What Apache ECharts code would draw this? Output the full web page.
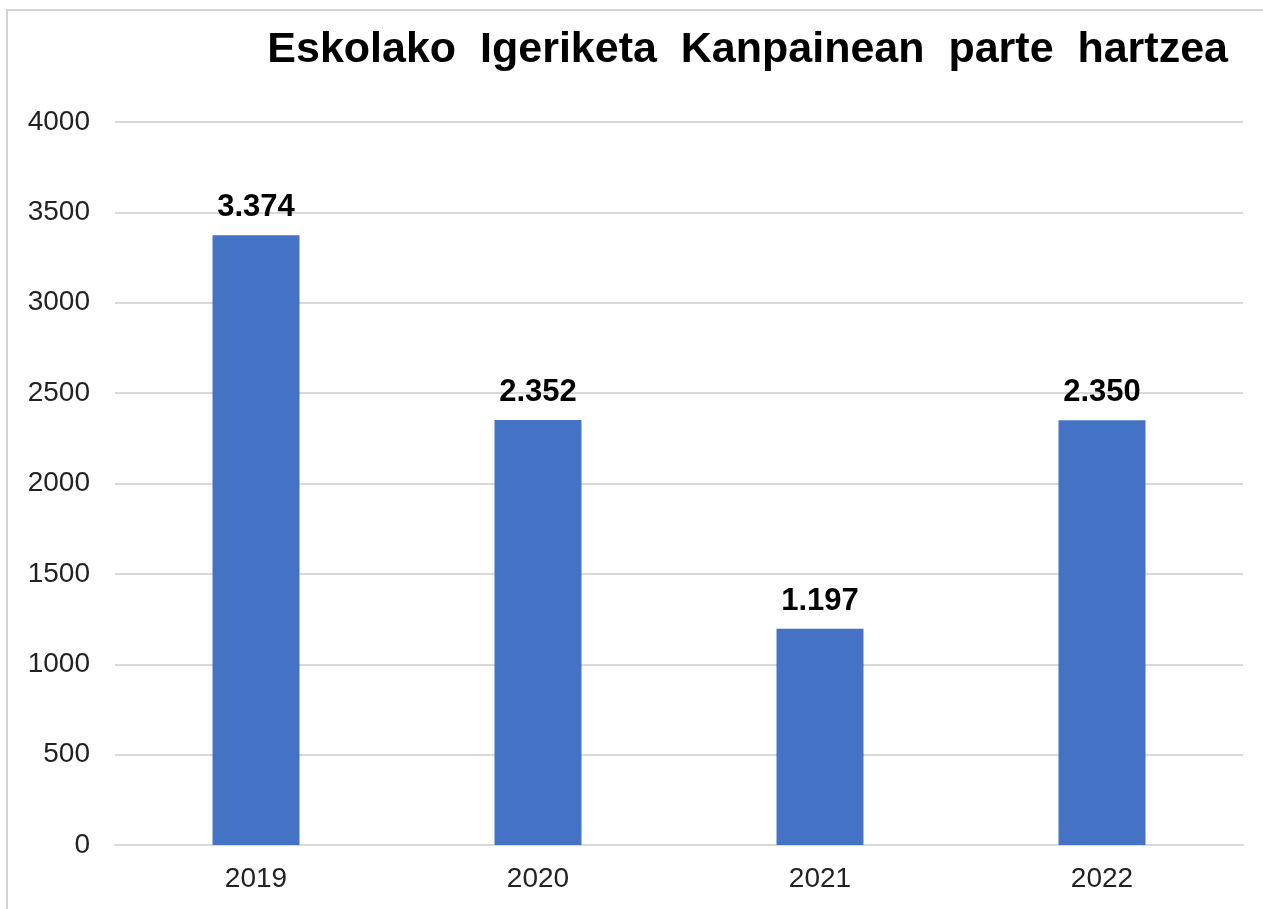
<!DOCTYPE html>
<html>
<head>
<meta charset="utf-8">
<script src="https://cdn.jsdelivr.net/npm/echarts@6/dist/echarts.min.js"></script>
<style>
  html, body { margin: 0; padding: 0; background: #ffffff; }
  #chart { width: 1263px; height: 909px; }
</style>
</head>
<body>
<div id="chart"></div>
<script>
// urteak eta parte-hartzaileak
var years = ["2019", "2020", "2021", "2022"];
var participants = [3374, 2352, 1197, 2350];
var yTicks = [0, 500, 1000, 1500, 2000, 2500, 3000, 3500, 4000];

var myChart = echarts.init(document.getElementById("chart"));

function fmt(v) {
  // 3374 -> 3.374
  return String(v).replace(/\B(?=(\d{3})+(?!\d))/g, ".");
}

myChart.setOption({
  animation: false,
  textStyle: { fontFamily: "Liberation Sans, Arial, sans-serif" },
  title: {
    text: "Eskolako  Igeriketa  Kanpainean  parte  hartzea",
    right: 30,
    top: 24,
    textStyle: {
      fontFamily: "Liberation Sans, Arial, sans-serif",
      fontSize: 43,
      fontWeight: "bold",
      color: "#000000"
    }
  },
  graphic: [
    {
      type: "rect",
      shape: { x: 7, y: 10, width: 1400, height: 1000 },
      style: { fill: "none", stroke: "#d4d4d4", lineWidth: 2 },
      silent: true
    }
  ],
  grid: {
    left: 115,
    right: 20,
    top: 122,
    bottom: 64
  },
  xAxis: {
    type: "category",
    data: years,
    axisLine: { lineStyle: { color: "#d9d9d9", width: 2 } },
    axisTick: { show: false },
    axisLabel: {
      color: "#222222",
      fontSize: 28,
      margin: 20
    }
  },
  yAxis: {
    type: "value",
    min: yTicks[0],
    max: yTicks[yTicks.length - 1],
    interval: 500,
    axisLine: { show: false },
    axisTick: { show: false },
    axisLabel: {
      color: "#222222",
      fontSize: 28,
      margin: 25,
      formatter: function (v) { return String(v); }
    },
    splitLine: {
      show: true,
      lineStyle: { color: "#d9d9d9", width: 2, type: "solid" }
    }
  },
  series: [
    {
      type: "bar",
      data: participants,
      barWidth: 87,
      itemStyle: { color: "#4472C4" },
      label: {
        show: true,
        position: "top",
        distance: 12,
        fontSize: 31,
        fontWeight: "bold",
        color: "#000000",
        formatter: function (p) { return fmt(p.value); }
      }
    }
  ]
});
</script>
</body>
</html>
